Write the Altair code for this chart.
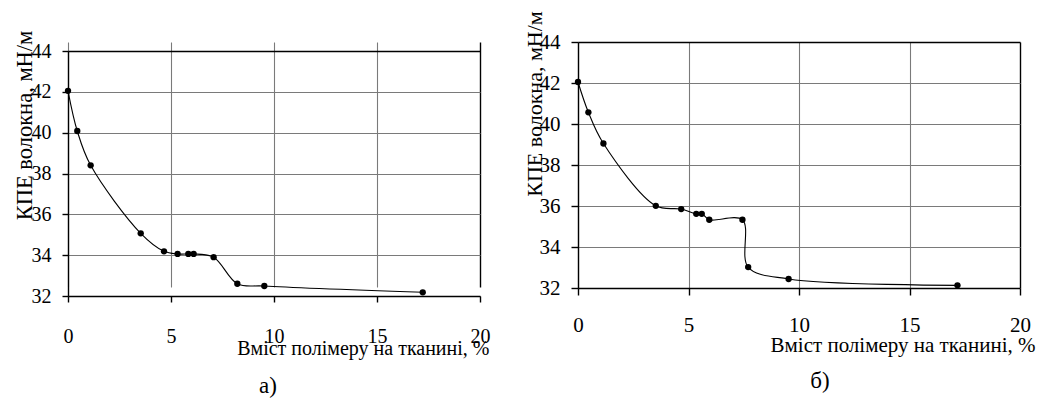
import altair as alt
import pandas as pd

# ---- data ----
x_a = [0, 0.45, 1.1, 3.53, 4.66, 5.32, 5.84, 6.10, 7.07, 8.22, 9.53, 17.22]
y_a = [42.05, 40.08, 38.4, 35.07, 34.19, 34.06, 34.06, 34.06, 33.9, 32.6, 32.49, 32.18]

x_b = [0, 0.47, 1.15, 3.52, 4.67, 5.35, 5.6, 5.94, 7.44, 7.70, 9.53, 17.17]
y_b = [42.05, 40.57, 39.05, 36.01, 35.85, 35.62, 35.62, 35.33, 35.33, 33.02, 32.44, 32.13]

x_ticks = [0, 5, 10, 15, 20]
y_ticks = [32, 34, 36, 38, 40, 42, 44]
x_title = "Вміст полімеру на тканині, %"
y_title = "КПЕ волокна, мН/м"
labels = ["а)", "б)"]

FONT = "Liberation Serif"


def panel(xs, ys, w, h, top, label, fs, yfs, xtick, xpad, ytick, ypad,
          xtx, xty, ytx, yty, loff, ldx):
    df = pd.DataFrame({"x": xs, "y": ys})
    xaxis = alt.Axis(
        values=x_ticks, title=x_title, labelFlush=False,
        tickSize=xtick, labelPadding=xpad, labelBaseline="middle",
        labelFontSize=fs, titleFontSize=fs, titleFontWeight="normal",
        titleAlign="right", titleBaseline="middle", titleX=xtx, titleY=xty,
        grid=True,
        gridColor={"condition": {"test": "datum.value === 20", "value": "black"}, "value": "#7a7a7a"},
        gridWidth={"condition": {"test": "datum.value === 20", "value": 1.4}, "value": 1.1},
    )
    yaxis = alt.Axis(
        values=y_ticks, title=y_title, labelFlush=False,
        tickSize=ytick, labelPadding=ypad,
        labelFontSize=fs, titleFontSize=yfs, titleFontWeight="normal",
        titleAlign="center", titleBaseline="middle", titleX=ytx, titleY=yty,
        titleAngle=270,
        grid=True,
        gridColor={"condition": {"test": "datum.value === 44", "value": "black"}, "value": "#7a7a7a"},
        gridWidth={"condition": {"test": "datum.value === 44", "value": 1.4}, "value": 1.1},
    )
    total_h = h + top
    base = alt.Chart(df).encode(
        x=alt.X("x:Q", scale=alt.Scale(domain=[0, 20], nice=False, zero=False), axis=xaxis),
        y=alt.Y("y:Q", scale=alt.Scale(domain=[32, 44], nice=False, zero=False,
                                       range=[total_h, top]), axis=yaxis),
    )
    line = base.mark_line(color="black", strokeWidth=1.1, interpolate="catmull-rom")
    pts = base.mark_circle(color="black", size=40, opacity=1)
    return alt.layer(line, pts).properties(
        width=w, height=total_h,
        title=alt.Title(label, orient="bottom", frame="group", anchor="middle",
                        fontSize=23, font=FONT, fontWeight="normal", color="black",
                        offset=loff, dx=ldx),
    )


left = panel(x_a, y_a, 412, 245, 9, labels[0], 20, 22.5, 6, 34, 6, 11,
             421, 52, -44, 83, 17, -6)
right = panel(x_b, y_b, 442, 246, 0, labels[1], 21, 22, 7, 30, 7, 11,
              457, 57, -44, 61.5, 15, 21)

chart = alt.hconcat(left, right, spacing=98, bounds="flush").properties(
    padding={"left": 4, "top": 2, "right": 0, "bottom": 0},
    background="white",
).configure_view(stroke="transparent").configure_axis(
    domainColor="black", domainWidth=1.4, tickColor="black", tickWidth=1.4,
    labelColor="black", titleColor="black", labelFont=FONT, titleFont=FONT,
)

chart.save("out.html", embed_options={"renderer": "svg", "actions": False})
